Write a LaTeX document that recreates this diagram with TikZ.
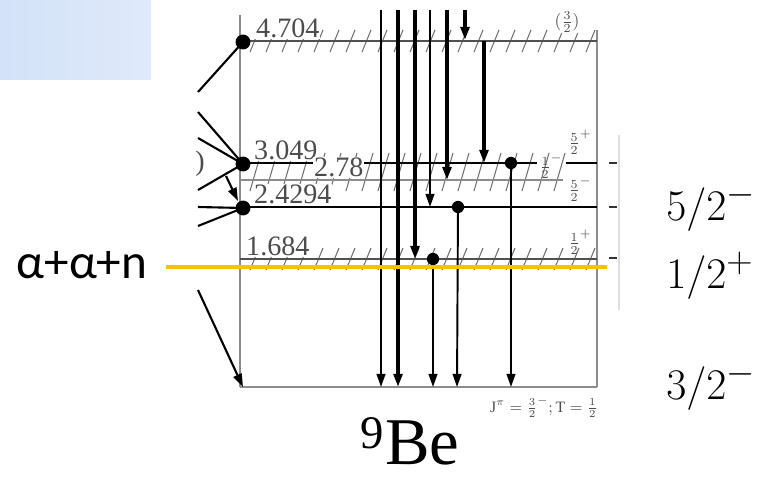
\documentclass[tikz,border=0pt]{standalone}
\usepackage{fontspec}
\setmainfont{Liberation Serif}
\newfontfamily\calib{Carlito}
\usetikzlibrary{arrows.meta}
\definecolor{lvlgray}{HTML}{505050}
\definecolor{framegray}{HTML}{8C8C8C}
\definecolor{hatchgray}{HTML}{707070}
\definecolor{gold}{HTML}{FFC000}
\definecolor{boxblueL}{HTML}{D3E2F8}
\definecolor{boxblueR}{HTML}{DFEAFA}
\tikzset{
	level/.style={lvlgray, line width=1pt},
	frame/.style={framegray, line width=0.9pt},
	gam/.style={black, line width=1.1pt, -{Triangle[length=7.5pt,width=5pt]}},
	gamthick/.style={gam, line width=1.9pt},
	feed/.style={black, line width=1.2pt},
	bigdot/.style={circle, fill=black, inner sep=0pt, minimum size=8.5pt},
	dot/.style={circle, fill=black, inner sep=0pt, minimum size=7pt},
	hatch/.style={hatchgray, line width=0.6pt},
	elab/.style={gray!60!black, fill=white, inner sep=0.5pt, font=\fontsize{16}{16}\selectfont},
	jlab/.style={gray!60!black, inner sep=0pt, font=\normalsize},
	biglab/.style={inner sep=0pt, font=\fontsize{30}{30}\selectfont},
}
\begin{document}
\begin{tikzpicture}[x=0.02cm, y=-0.02cm]
	\useasboundingbox (0,0) rectangle (778,479);
	\shade[left color=boxblueL, right color=boxblueR] (0,0) rectangle (151,80);
	% hatching of the broad levels
	\foreach \hx in {250,266,...,590} \draw[hatch] (\hx,52) -- (\hx+9,30);
	\foreach \hx in {250,266,...,560} \draw[hatch] (\hx,191) -- (\hx+11,153);
	\foreach \hx in {250,266,...,590} \draw[hatch] (\hx,270) -- (\hx+9,248);
	% frame
	\coordinate (fl1) at (240,15);
	\coordinate (fl2) at (240,387);
	\coordinate (fr1) at (597,30);
	\coordinate (fr2) at (597,387);
	\draw[frame] (fl1) -- (fl2);
	\draw[frame] (fr1) -- (fr2);
	% levels
	\coordinate (a4704) at (240,41);  \coordinate (b4704) at (597,41);
	\coordinate (a3049) at (240,163); \coordinate (b3049) at (537,163);
	\coordinate (c3049) at (566,163); \coordinate (d3049) at (597,163);
	\coordinate (a278) at (240,180);  \coordinate (b278) at (563,180);
	\coordinate (a2429) at (240,207); \coordinate (b2429) at (597,207);
	\coordinate (a1684) at (240,259); \coordinate (b1684) at (597,259);
	\draw[level] (a4704) -- (b4704);
	\draw[level, black] (a3049) -- (b3049);
	\draw[level, black] (c3049) -- (d3049);
	\draw[level, framegray, line width=1.3pt] (a278) -- (b278);
	\draw[level, black] (a2429) -- (b2429);
	\draw[level] (a1684) -- (b1684);
	\draw[level, framegray] (fl2) -- (fr2);
	% level energies
	\node[elab, anchor=south west] (e4704) at (255,39) {4.704};
	\node[elab, anchor=south west] (e3049) at (253,161) {3.049};
	\node[elab, anchor=south west] (e278) at (313,178) {2.78};
	\node[elab, anchor=south west] (e2429) at (253,205) {2.4294};
	\node[elab, anchor=south west] (e1684) at (245,257) {1.684};
	\node[jlab, fill=white, inner sep=0.5pt] (j4704) at (567,22) {$(\frac{3}{2})$};
	\node[jlab] (j3049) at (580,142) {$\frac{5}{2}^{+}$};
	\node[jlab] (j278) at (551,166) {$\frac{1}{2}^{-}$};
	\node[jlab] (j2429) at (580,189) {$\frac{5}{2}^{-}$};
	\node[jlab] (j1684) at (580,242) {$\frac{1}{2}^{+}$};
	\node[jlab, font=\small, anchor=north east] (jgs) at (598,396) {$\mathrm{J}^{\pi}=\frac{3}{2}^{-}\mathrm{;}\,\mathrm{T}=\frac{1}{2}$};
	% feeding lines from the left
	\node[bigdot] (d1) at (243,42) {};
	\node[bigdot] (d2) at (243,164) {};
	\node[bigdot] (d3) at (243,208) {};
	\coordinate (s1) at (198,92);
	\coordinate (s2) at (198,112);
	\coordinate (s3) at (198,138);
	\coordinate (s4) at (198,190);
	\coordinate (s5) at (198,207);
	\coordinate (s6) at (198,226);
	\coordinate (s7) at (198,290);
	\coordinate (s8) at (226,176);
	\coordinate (g0) at (243,387);
	\coordinate (g8) at (238,201);
	\draw[feed] (s1) -- (d1.center);
	\draw[feed] (s2) -- (d2.center);
	\draw[feed] (s3) -- (d2.center);
	\draw[feed] (s4) -- (d2.center);
	\draw[feed] (s5) -- (d3.center);
	\draw[feed] (s6) -- (d3.center);
	\draw[gam, line width=1.2pt] (s8) -- (g8);
	\draw[gam, line width=1.2pt] (s7) -- (g0);
	\node[elab, fill=none, inner sep=0pt] (cut) at (200,164) {)};
	% gamma rays from above
	\foreach \x/\yb/\w [count=\i] in {381/387/gam, 398/387/gamthick, 415/259/gamthick, 430/207/gam, 447/180/gamthick, 465/40/gamthick}{
		\coordinate (top\i) at (\x,10);
		\coordinate (end\i) at (\x,\yb);
		\draw[\w] (top\i) -- (end\i);
	}
	\coordinate (top7) at (484,41);
	\coordinate (end7) at (484,163);
	\draw[gamthick] (top7) -- (end7);
	\node[dot] (p1) at (433,259) {};
	\node[dot] (p2) at (458,207) {};
	\node[dot] (p3) at (511,163) {};
	\coordinate (q1) at (433,387);
	\coordinate (q2) at (457,387);
	\coordinate (q3) at (511,387);
	\draw[gam] (p1.center) -- (q1);
	\draw[gam] (p2.center) -- (q2);
	\draw[gam] (p3.center) -- (q3);
	% right side marks
	\coordinate (v1) at (619,135);
	\coordinate (v2) at (619,310);
	\draw[gray!25, line width=0.6pt] (v1) -- (v2);
	\foreach \ty [count=\i] in {163,207,258}{
		\coordinate (tk\i) at (609,\ty);
		\coordinate (tl\i) at (617,\ty);
		\draw[black!80, line width=1.2pt] (tk\i) -- (tl\i);
	}
	% threshold
	\coordinate (th1) at (166,267);
	\coordinate (th2) at (607,267);
	\draw[gold, line width=2.4pt] (th1) -- (th2);
	\node[inner sep=0pt, font=\calib\fontsize{28}{28}\selectfont] (thr) at (82,265) {α+α+n};
	\node[biglab, anchor=west] (r1) at (666,207) {$5/2^{-}$};
	\node[biglab, anchor=west] (r2) at (666,276) {$1/2^{+}$};
	\node[biglab, anchor=west] (r3) at (666,386) {$3/2^{-}$};
	\node[inner sep=0pt, font=\fontsize{38}{38}\selectfont] (nuc) at (410,441) {\textsuperscript{9}Be};
\end{tikzpicture}
\end{document}
